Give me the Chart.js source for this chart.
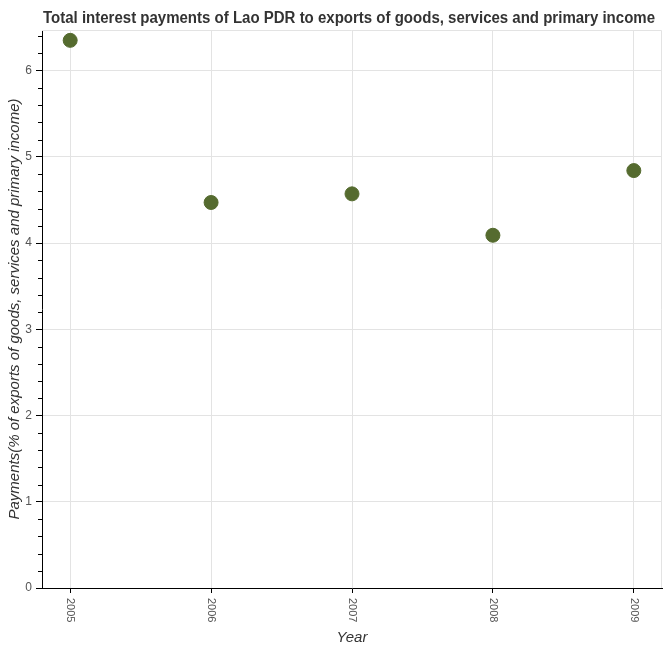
<!DOCTYPE html>
<html>
<head>
<meta charset="utf-8">
<script src="https://cdn.jsdelivr.net/npm/chart.js@4"></script>
<style>
  html, body { margin: 0; padding: 0; background: #fff; }
  #wrap { width: 670px; height: 650px; }
</style>
</head>
<body>
<div id="wrap"><canvas id="paymentsChart" width="670" height="650"></canvas></div>
<script>
// chart data
const years = [2005, 2006, 2007, 2008, 2009];
const payments = [6.35, 4.47, 4.57, 4.09, 4.84];
const yTicks = [0, 1, 2, 3, 4, 5, 6];

const chartTitle = "Total interest payments of Lao PDR to exports of goods, services and primary income";
const yTitle = "Payments(% of exports of goods, services and primary income)";
const xTitle = "Year";

const dotColor = "#556b2f";
const gridColor = "#e3e3e3";

// title, plot frame, rotated year labels and minor ticks
const extrasPlugin = {
    id: "extras",
    beforeDatasetsDraw(chart) {
        const { ctx, chartArea } = chart;
        ctx.save();
        ctx.strokeStyle = gridColor;
        ctx.lineWidth = 1;
        ctx.beginPath();
        ctx.moveTo(chartArea.left, chartArea.top + 0.5);
        ctx.lineTo(chartArea.right - 0.5, chartArea.top + 0.5);
        ctx.lineTo(chartArea.right - 0.5, chartArea.bottom);
        ctx.stroke();
        ctx.restore();
    },
    afterDraw(chart) {
        const { ctx, chartArea } = chart;
        const x = chart.scales.x;
        const y = chart.scales.y;
        ctx.save();

        // title (squeezed to a narrow look)
        ctx.fillStyle = "#333333";
        ctx.font = "bold 16px 'Liberation Sans', Arial, sans-serif";
        ctx.textAlign = "center";
        ctx.textBaseline = "middle";
        const w = ctx.measureText(chartTitle).width;
        const sx = Math.min(1, 612 / w);
        ctx.save();
        ctx.translate(349, 19);
        ctx.scale(sx, 1);
        ctx.fillText(chartTitle, 0, 0);
        ctx.restore();

        // year labels, turned clockwise
        ctx.fillStyle = "#555555";
        ctx.font = "11px 'Liberation Sans', Arial, sans-serif";
        ctx.textAlign = "left";
        ctx.textBaseline = "middle";
        years.forEach(yr => {
            ctx.save();
            ctx.translate(x.getPixelForValue(yr), chartArea.bottom + 10);
            ctx.rotate(Math.PI / 2);
            ctx.fillText(String(yr), 0, 0);
            ctx.restore();
        });

        // minor ticks on y axis
        ctx.strokeStyle = "#000";
        ctx.lineWidth = 1;
        ctx.beginPath();
        for (let i = 1; i * 0.2 < y.max; i++) {
            if (i % 5 === 0) continue;
            const py = Math.round(y.getPixelForValue(i * 0.2)) + 0.5;
            ctx.moveTo(chartArea.left - 4, py);
            ctx.lineTo(chartArea.left, py);
        }
        ctx.stroke();
        ctx.restore();
    }
};

const ctx = document.getElementById("paymentsChart").getContext("2d");

new Chart(ctx, {
    type: "scatter",
    data: {
        datasets: [{
            label: "Payments",
            data: years.map((yr, i) => ({ x: yr, y: payments[i] })),
            backgroundColor: dotColor,
            borderColor: dotColor,
            pointRadius: 7,
            pointHoverRadius: 7
        }]
    },
    options: {
        responsive: false,
        animation: false,
        layout: { padding: { top: 30, right: 5, left: 0, bottom: 0 } },
        plugins: {
            legend: { display: false },
            tooltip: { enabled: false },
            title: { display: false }
        },
        scales: {
            x: {
                type: "linear",
                min: 2004.8,
                max: 2009.2,
                afterBuildTicks: s => { s.ticks = years.map(v => ({ value: v })); },
                afterFit: s => { s.height = 62; },
                ticks: { display: false },
                grid: { color: gridColor, tickColor: "#000", tickLength: 5 },
                border: { color: "#000", width: 1 },
                title: {
                    display: true,
                    text: xTitle,
                    color: "#333333",
                    font: { family: "'Liberation Sans', Arial, sans-serif", size: 15, style: "italic" },
                    padding: { top: 2, bottom: 3 }
                }
            },
            y: {
                min: 0,
                max: 6.47,
                afterBuildTicks: s => { s.ticks = yTicks.map(v => ({ value: v })); },
                afterFit: s => { s.width = 42; },
                ticks: {
                    color: "#555555",
                    padding: 4,
                    font: { family: "'Liberation Sans', Arial, sans-serif", size: 12 }
                },
                grid: { color: gridColor, tickColor: "#000", tickLength: 6 },
                border: { color: "#000", width: 1 },
                title: {
                    display: true,
                    text: yTitle,
                    color: "#333333",
                    font: { family: "'Liberation Sans', Arial, sans-serif", size: 15, style: "italic" },
                    padding: { top: 6, bottom: 0 }
                }
            }
        }
    },
    plugins: [extrasPlugin]
});
</script>
</body>
</html>
